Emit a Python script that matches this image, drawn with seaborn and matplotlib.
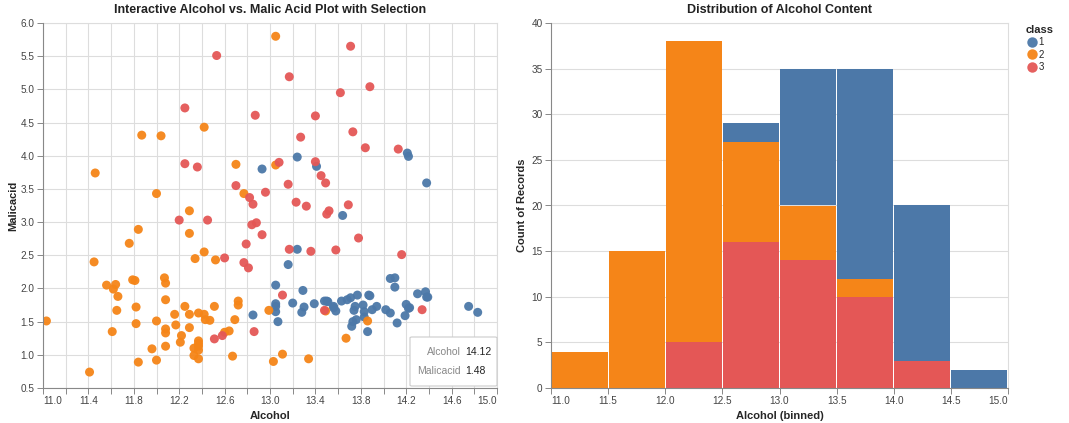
import numpy as np
import pandas as pd
import seaborn as sns
import matplotlib.pyplot as plt
from matplotlib.lines import Line2D
from matplotlib.patches import FancyBboxPatch

# wine data: alcohol / malic acid per class
alcohol_1 = [14.23, 13.2, 13.16, 14.37, 13.24, 14.2, 14.39, 14.06, 14.83, 13.86, 14.1, 14.12, 13.75, 14.75,
             14.38, 13.63, 14.3, 13.83, 14.19, 13.64, 14.06, 12.93, 13.71, 12.85, 13.5, 13.05, 13.39, 13.3,
             13.87, 14.02, 13.73, 13.58, 13.68, 13.76, 13.51, 13.48, 13.28, 13.05, 13.07, 14.22, 13.56, 13.41,
             13.88, 13.24, 13.05, 14.21, 14.38, 13.9, 14.1, 13.94, 13.05, 13.83, 13.82, 13.77, 13.74, 13.56,
             14.22, 13.29, 13.72]
malic_1 = [1.71, 1.78, 2.36, 1.95, 2.59, 1.76, 1.87, 2.15, 1.64, 1.35, 2.16, 1.48, 1.73, 1.73,
           1.87, 1.81, 1.92, 1.57, 1.59, 3.1, 1.63, 3.8, 1.86, 1.6, 1.81, 2.05, 1.77, 1.72,
           1.9, 1.68, 1.5, 1.66, 1.83, 1.53, 1.8, 1.81, 1.64, 1.65, 1.5, 3.99, 1.71, 3.84,
           1.89, 3.98, 1.77, 4.04, 3.59, 1.68, 2.02, 1.73, 1.73, 1.65, 1.75, 1.9, 1.67, 1.73,
           1.7, 1.97, 1.43]
alcohol_2 = [12.37, 12.33, 12.64, 13.67, 12.37, 12.17, 12.37, 13.11, 12.37, 13.34, 12.21, 12.29, 13.86, 13.49,
             12.99, 11.96, 11.66, 13.03, 11.84, 12.33, 12.7, 12.0, 12.72, 12.08, 13.05, 11.84, 12.67, 12.16,
             11.65, 11.64, 12.08, 12.08, 12.0, 12.69, 12.29, 11.62, 12.47, 11.81, 12.29, 12.37, 12.29, 12.08,
             12.6, 12.34, 11.82, 12.51, 12.42, 12.25, 12.72, 12.22, 11.61, 11.46, 12.52, 11.76, 11.41, 12.08,
             11.03, 11.82, 12.42, 12.77, 12.0, 11.45, 11.56, 12.42, 13.05, 11.87, 12.07, 12.43, 11.79, 12.37,
             12.04]
malic_2 = [0.94, 1.1, 1.36, 1.25, 1.13, 1.45, 1.21, 1.01, 1.17, 0.94, 1.19, 1.61, 1.51, 1.66,
           1.67, 1.09, 1.88, 0.9, 2.89, 0.99, 3.87, 0.92, 1.81, 1.13, 3.86, 0.89, 0.98, 1.61,
           1.67, 2.06, 1.33, 1.83, 1.51, 1.53, 2.83, 1.99, 1.52, 2.12, 1.41, 1.07, 3.17, 2.08,
           1.34, 2.45, 1.72, 1.73, 2.55, 1.73, 1.75, 1.29, 1.35, 3.74, 2.43, 2.68, 0.74, 1.39,
           1.51, 1.47, 1.61, 3.43, 3.43, 2.4, 2.05, 4.43, 5.8, 4.31, 2.16, 1.53, 2.13, 1.63,
           4.3]
alcohol_3 = [12.86, 12.88, 12.81, 12.7, 12.51, 12.6, 12.25, 12.53, 13.49, 12.84, 12.93, 13.36, 13.52, 13.62,
             12.25, 13.16, 13.88, 12.87, 13.32, 13.08, 13.5, 12.79, 13.11, 13.23, 12.58, 13.17, 13.84, 12.45,
             14.34, 13.48, 12.36, 13.69, 12.85, 12.96, 13.78, 13.73, 13.45, 12.82, 13.58, 13.4, 12.2, 12.77,
             14.16, 13.71, 13.4, 13.27, 13.17, 14.13]
malic_3 = [1.35, 2.99, 2.31, 3.55, 1.24, 2.46, 4.72, 5.51, 3.59, 2.96, 2.81, 2.56, 3.17, 4.95,
           3.88, 3.57, 5.04, 4.61, 3.24, 3.9, 3.12, 2.67, 1.9, 3.3, 1.29, 5.19, 4.12, 3.03,
           1.68, 1.67, 3.83, 3.26, 3.27, 3.45, 2.76, 4.36, 3.7, 3.37, 2.58, 4.6, 3.03, 2.39,
           2.51, 5.65, 3.91, 4.28, 2.59, 4.1]

tooltip_alcohol = 14.12
tooltip_malic = 1.48

df = pd.DataFrame({
    'Alcohol': alcohol_1 + alcohol_2 + alcohol_3,
    'Malicacid': malic_1 + malic_2 + malic_3,
    'class': [1] * len(alcohol_1) + [2] * len(alcohol_2) + [3] * len(alcohol_3),
})

colors = {1: '#4c78a8', 2: '#f58518', 3: '#e45756'}

sns.set_theme(style="white")
plt.rcParams['font.family'] = ['Liberation Sans', 'DejaVu Sans']

fig = plt.figure(figsize=(10.69, 4.23), dpi=100)
W, H = 1069, 423
ax1 = fig.add_axes([43 / W, 35 / H, 454 / W, 365 / H])
ax2 = fig.add_axes([551 / W, 35 / H, 457 / W, 365 / H])

grid_c = '#dddddd'
axis_c = '#888888'
label_c = '#444444'


def style_axes(ax, xgrid=True):
    for s in ax.spines.values():
        s.set_color(grid_c)
        s.set_linewidth(0.8)
    ax.spines['left'].set_color(axis_c)
    ax.spines['bottom'].set_color(axis_c)
    ax.spines['left'].set_zorder(5)
    ax.spines['bottom'].set_zorder(5)
    ax.tick_params(axis='both', length=4, width=0.7, color=axis_c, labelsize=7.2,
                   labelcolor=label_c, pad=2, bottom=True, left=True)
    ax.grid(True, axis='y', color=grid_c, linewidth=0.8)
    if xgrid:
        ax.grid(True, axis='x', color=grid_c, linewidth=0.8)
    ax.set_axisbelow(True)
    labels = ax.get_xticklabels()
    labels[0].set_horizontalalignment('left')
    labels[-1].set_horizontalalignment('right')


# scatter
sns.scatterplot(data=df, x='Alcohol', y='Malicacid', hue='class', palette=colors,
                s=42, alpha=0.95, linewidth=0, legend=False, ax=ax1, zorder=3)
ax1.set_xlim(11.0, 15.0)
ax1.set_ylim(0.5, 6.0)
xt = np.round(np.arange(11.0, 15.01, 0.2), 1)
ax1.set_xticks(xt)
ax1.set_xticklabels([f"{v:.1f}" if i % 2 == 0 else '' for i, v in enumerate(xt)])
yt = np.round(np.arange(0.5, 6.01, 0.5), 1)
ax1.set_yticks(yt)
ax1.set_yticklabels([f"{v:.1f}" for v in yt])
style_axes(ax1)
ax1.set_xlabel('Alcohol', fontsize=8, fontweight='bold', labelpad=3)
ax1.set_ylabel('Malicacid', fontsize=8, fontweight='bold', labelpad=2)
ax1.set_title('Interactive Alcohol vs. Malic Acid Plot with Selection', fontsize=9,
              fontweight='bold', pad=7, color='#222222')

# tooltip box
box = FancyBboxPatch((410 / W, 37 / H), 87 / W, 49 / H, boxstyle='round,pad=0,rounding_size=0.002',
                     transform=fig.transFigure, facecolor='white', edgecolor='#cccccc',
                     linewidth=0.8, zorder=10)
fig.patches.append(box)
fig.text(461 / W, 71 / H, 'Alcohol', ha='right', va='center', fontsize=7.5, color='#888888', zorder=11)
fig.text(465 / W, 71 / H, f"{tooltip_alcohol:.2f}", ha='left', va='center', fontsize=7.5, color='#222222', zorder=11)
fig.text(461 / W, 52 / H, 'Malicacid', ha='right', va='center', fontsize=7.5, color='#888888', zorder=11)
fig.text(465 / W, 52 / H, f"{tooltip_malic:.2f}", ha='left', va='center', fontsize=7.5, color='#222222', zorder=11)

# stacked histogram
sns.histplot(data=df, x='Alcohol', hue='class', hue_order=[1, 2, 3], palette=colors,
             multiple='stack', binwidth=0.5, binrange=(11.0, 15.0), alpha=1, shrink=0.982,
             linewidth=0, legend=False, ax=ax2, zorder=3)
ax2.set_xlim(11.0, 15.0)
ax2.set_ylim(0, 40)
xt2 = np.round(np.arange(11.0, 15.01, 0.5), 1)
ax2.set_xticks(xt2)
ax2.set_xticklabels([f"{v:.1f}" for v in xt2])
ax2.set_yticks(np.arange(0, 41, 5))
style_axes(ax2, xgrid=False)
ax2.set_xlabel('Alcohol (binned)', fontsize=8, fontweight='bold', labelpad=3)
ax2.set_ylabel('Count of Records', fontsize=8, fontweight='bold', labelpad=3)
ax2.set_title('Distribution of Alcohol Content', fontsize=9, fontweight='bold', pad=7, color='#222222')

handles = [Line2D([], [], marker='o', linestyle='', markersize=7.5, markerfacecolor=colors[c],
                  markeredgewidth=0, alpha=0.95, label=str(c)) for c in [1, 2, 3]]
leg = fig.legend(handles=handles, title='class', loc='upper left',
                 bbox_to_anchor=(1022 / W, 1 - 21 / H), frameon=False, fontsize=7,
                 title_fontsize=8, handletextpad=0.1, labelspacing=0.25, borderaxespad=0,
                 handlelength=1.2)
leg.get_title().set_fontweight('bold')
leg._legend_box.align = 'left'

fig.savefig('out.png', dpi=100)
